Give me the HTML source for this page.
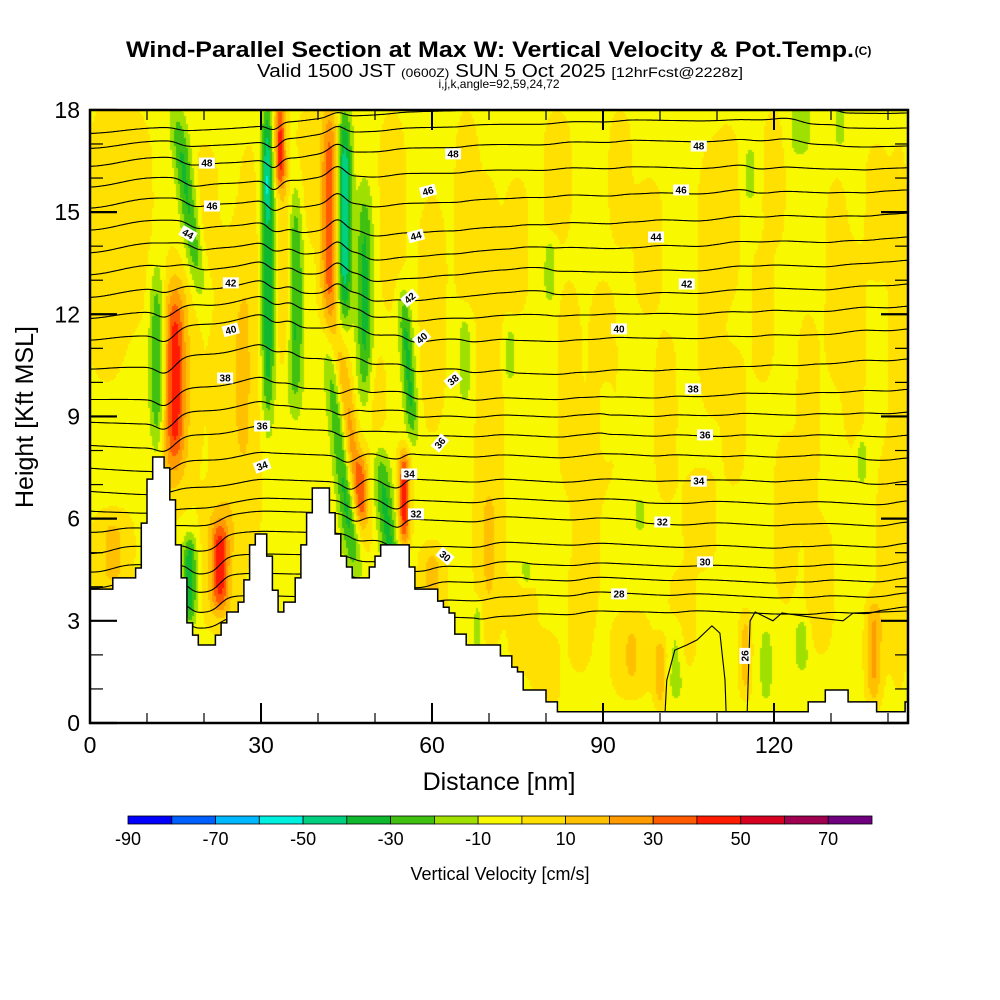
<!DOCTYPE html>
<html><head><meta charset="utf-8">
<style>
html,body{margin:0;padding:0;background:#fff;}
#wrap{position:relative;width:1000px;height:1000px;overflow:hidden;font-family:"Liberation Sans",sans-serif;}
#field{position:absolute;left:90px;top:110px;}
#ov{position:absolute;left:0;top:0;}
</style></head>
<body>
<div id="wrap">
<canvas id="field" width="818" height="613"></canvas>
<svg id="ov" width="1000" height="1000" xmlns="http://www.w3.org/2000/svg">
<g font-family="Liberation Sans, sans-serif" text-anchor="middle">
<text x="490" y="57" font-size="22" font-weight="bold" textLength="728" lengthAdjust="spacingAndGlyphs">Wind-Parallel Section at Max W: Vertical Velocity &amp; Pot.Temp.</text>
<text x="863" y="55" font-size="12" font-weight="bold">(C)</text>
<text x="500" y="77" font-size="18" textLength="486" lengthAdjust="spacingAndGlyphs">Valid 1500 JST <tspan font-size="12">(0600Z)</tspan> SUN 5 Oct 2025 <tspan font-size="14">[12hrFcst@2228z]</tspan></text>
<text x="499" y="88" font-size="12">i,j,k,angle=92,59,24,72</text>
</g>
<defs><clipPath id="pc"><rect x="90" y="110" width="818" height="613"/></clipPath></defs>
<g id="contours" clip-path="url(#pc)"></g>
<g id="terrain" clip-path="url(#pc)"></g>
<g id="labels"></g>
<g id="axes"></g>
<g id="cbar"></g>
</svg>
</div>
<script>
// ---------- data ----------
const colors = ["#0000ff","#0060ff","#00b8ff","#00f0e0","#00d080","#10b830","#40c010","#a0e000","#f8f800","#ffe000","#ffc000","#ff9a00","#ff5a00","#ff1a00","#d80020","#a00050","#700080"];
const cbarLabels = ["-90","-70","-50","-30","-10","10","30","50","70"];
const terrain = [3.93,3.93,3.93,3.93,4.26,4.26,4.26,4.26,4.55,5.87,
7.16,7.81,7.81,7.49,6.55,5.23,4.26,2.94,2.58,2.29,
2.29,2.29,2.58,2.94,3.26,3.26,3.55,4.2,5.23,5.55,
5.55,4.9,3.9,3.26,3.55,3.55,4.26,5.23,6.17,6.9,
6.9,6.9,6.17,5.55,4.9,4.58,4.26,4.26,4.26,4.58,
4.9,5.23,5.23,5.23,5.23,5.23,4.58,3.93,3.93,3.93,
3.93,3.58,3.4,3.23,2.61,2.61,2.29,2.29,2.29,2.29,
2.29,2.29,1.97,1.97,1.64,1.5,0.97,0.97,0.97,0.97,
0.62,0.62,0.33,0.33,0.33,0.33,0.33,0.33,0.33,0.33,
0.33,0.33,0.33,0.33,0.33,0.33,0.33,0.33,0.33,0.33,
0.33,0.33,0.33,0.33,0.33,0.33,0.33,0.33,0.33,0.33,
0.33,0.33,0.33,0.33,0.33,0.33,0.33,0.33,0.33,0.33,
0.33,0.33,0.33,0.33,0.33,0.33,0.62,0.62,0.62,0.97,
0.97,0.97,0.97,0.62,0.62,0.62,0.62,0.62,0.33,0.33,
0.33,0.33,0.33,0.62];
const wBase = -3;
// features: center nm, center kft, half-width nm, half-height kft, tilt nm/kft, amplitude cm/s
const featX    = [14.9,14.9,11.8,17.2,31.2,31.0,33.3,34.2,36.0,42.1,45.3,47.7,44.6,44.2,48.2,52.0,55.8,55.1,22.8,22.8,17.5,25,
 90.4,80.7,65.8,73.7,115.8,124.6,131.6,135.4,102.8,118.6,124.9,76.5,68,96.5,
 137.5,100,95,115,60,
 3,4,70,87,109,122,131,142,80,107,98,82,118,7,28,53,60,90,128,76,113,66,138,
 12,38,20,50,75,84,93,101,112,126,134,104,120,140,86,70];
const featZ    = [10.1,10.0,10.4,15.3,13.4,16.5,17.0,13.5,12.5,14.8,8.6,6.9,14.9,8.0,12.5,6.0,10.5,6.6,4.6,4.8,4.2,10,
 8.9,13.3,10.7,10.8,16.1,17.6,17.6,7.7,1.8,1.7,2.3,4.4,2.85,6.1,
 2.1,1.5,2,2,4,
 14,5,9,6,13,6,13,9,1.5,6,14,16,12,15,11,15,12,10,4,3,9,15,15,
 7,16,15,9,14,10,16,9,15,9,11,3,16,5,3,5];
const featSX   = [1.7,3.5,1.4,1.6,1.2,0.8,1.0,1.4,1.4,1.6,1.6,1.1,1.3,1.6,1.4,1.6,1.2,1.0,1.5,3.0,1.2,3.5,
 1.1,1.1,1.2,1.0,1.1,2.0,1.0,0.9,1.3,1.1,1.3,1.1,0.8,1.0,
 1.3,1.0,3.0,1.0,2.0,
 4,3,2.5,2.5,2.5,2,2,2,2.5,3,2.5,2.5,2,4,2.5,2.5,2.5,2.5,2.5,2.5,2,2,2,
 2,2,2.5,2,2,2,2,2,2,2,2,2.5,2,2,2,2];
const featSZ   = [2.6,3.5,3.0,2.7,4.6,1.5,1.3,3.0,3.3,3.3,3.0,1.0,3.1,3.6,3.2,2.2,2.2,1.4,1.3,2.0,1.3,4,
 1.1,1.0,1.4,0.8,0.8,1.0,0.7,0.7,1.2,1.1,0.8,0.4,0.8,0.5,
 1.5,1.0,1.2,1.2,1.2,
 4,1.2,7,3,4,2.5,3,8,1.2,1.5,2,2,2,3,6,3,3.5,3,2,1.5,2,3,2,
 2,2,2,2,2,3,2,2.5,2.5,3,3,1.5,2,3,1.5,2];
const featTilt = [0,0,0,-0.76,0,0,0,0,0,0,-0.8,0,0,-0.61,0,-0.6,-0.4,0,0,0,0,0,
 0,0,0,0,0,0,0,0,0,0,0,0,0,0,
 0,0,0,0,0,
 0,0,0,0,0,0,0,0,0,0,0,0,0,0,0,0,0,0,0,0,0,0,0,
 0,0,0,0,0,0,0,0,0,0,0,0,0,0,0,0];
const featAmp  = [35,15,-32,-30,-38,-15,45,16,-30,42,36,20,-48,-35,-30,-30,-30,48,36,14,-35,10,
 -14,-14,-14,-14,-14,-14,-14,-14,-14,-14,-14,-14,-14,-14,
 25,20,14,18,18,
 8,16,8,8,8,8,8,8,8,8,8,8,8,8,8,8,8,8,8,8,8,8,8,
 8,8,8,8,8,8,8,8,8,8,8,8,8,8,8,8];
const thetaLevels = [27,28,29,30,31,32,33,34,35,36,37,38,39,40,41,42,43,44,45,46,47,48,49,50];
const thetaBaseZ  = [3.41,3.82,4.26,4.73,5.28,5.9,6.52,7.1,7.78,8.45,9.13,9.8,10.69,11.57,12.24,12.89,13.59,14.27,14.97,15.65,16.3,16.94,17.47,17.91];
const loop26X = [100.9,101.2,102.6,104.7,106.5,109.1,110.5,111.4,111.6];
const loop26Z = [0.33,1.26,2.14,2.29,2.44,2.85,2.64,1.26,0.33];
const line26X = [115.3,115.8,116.7,119.8,121.4,126.8,132.1,133.9,144];
const line26Z = [0.33,3.0,3.26,3.0,3.23,3.1,3.0,3.23,3.29];
const labelVal = ["48","48","48","46","46","46","44","44","44","42","42","42","40","40","40","38","38","38","36","36","36","34","34","34","32","32","30","30","28","26"];
const labelX = [20.5,63.7,106.8,21.4,59.3,103.7,17.2,57.2,99.3,24.7,56.1,104.7,24.7,58.2,92.8,23.7,63.7,105.8,30.2,61.4,107.9,30.2,56.0,106.8,57.2,100.4,62.3,107.9,92.8,114.9];
const labelZ = [16.44,16.71,16.94,15.18,15.62,15.65,14.36,14.3,14.27,12.92,12.48,12.89,11.54,11.3,11.57,10.13,10.07,9.81,8.72,8.22,8.46,7.55,7.31,7.1,6.14,5.9,4.9,4.73,3.79,1.97];
const labelRot = [0,0,0,0,-15,0,30,-15,0,0,-40,0,-15,-40,0,0,-40,0,0,-50,0,-20,0,0,0,0,40,0,0,-90];
const xTicks = [0,30,60,90,120];
const xMinor = [10,20,40,50,70,80,100,110,130,140];
const yTicks = [0,3,6,9,12,15,18];

// ---------- scales ----------
const X0=90, X1=908, Y0=723, Y1=110;
const NM_PX = 5.7, KFT_PX = 34.06;
const sx = nm => X0 + nm*NM_PX;
const sy = z => Y0 - z*KFT_PX;
const SVGNS="http://www.w3.org/2000/svg";
function mk(tag, attrs, parent){const e=document.createElementNS(SVGNS,tag);for(const k in attrs)e.setAttribute(k,attrs[k]);parent.appendChild(e);return e;}

function wAnom(x,z){
  let s=0;
  for(let i=0;i<featX.length;i++){
    const dz=z-featZ[i];
    const q=dz/featSZ[i]; const q4=q*q*q*q;
    if(q4>12) continue;
    const dx=(x-(featX[i]+featTilt[i]*dz))/featSX[i];
    const e=dx*dx+q4;
    if(e<12) s+=featAmp[i]*Math.exp(-e);
  }
  return s;
}

// ---------- field ----------
(function(){
  const cv=document.getElementById('field'); const ctx=cv.getContext('2d');
  const W=818,H=613,B=2;
  for(let py=0;py<H;py+=B){
    const z=(H-py-B/2)/KFT_PX;
    for(let px=0;px<W;px+=B){
      const x=(px+B/2)/NM_PX;
      const w=wBase+wAnom(x,z);
      let b=Math.floor((w+90)/10); if(b<0)b=0; if(b>16)b=16;
      ctx.fillStyle=colors[b]; ctx.fillRect(px,py,B,B);
    }
  }
})();

// ---------- contours ----------
(function(){
  const g=document.getElementById('contours');
  const step=0.25, N=Math.round(144/step);
  const k=0.0035;
  thetaLevels.forEach((lv,li)=>{
    const zb=thetaBaseZ[li];
    const I=[0]; let acc=0;
    for(let j=1;j<=N;j++){acc+=wAnom((j-0.5)*step,zb)*step; I.push(acc);}
    const tot=I[N];
    const pts=[];
    for(let j=0;j<=N;j++){
      const x=j*step;
      const lf=Math.exp(-(x/45)*(x/45));
      const top=Math.min(1,Math.max(0,(zb-11)/6));
      const z=zb+k*(I[j]-tot*x/144)-0.3*lf-0.3*lf*top;
      pts.push(sx(x).toFixed(1)+','+sy(z).toFixed(1));
    }
    const p=mk('polyline',{points:pts.join(' '),fill:'none',stroke:'#000','stroke-width':'1.1'},g);
    
    
  });
  [[loop26X,loop26Z],[line26X,line26Z]].forEach((a,ai)=>{
    const pts=a[0].map((x,i)=>sx(x).toFixed(1)+','+sy(a[1][i]).toFixed(1));
    const p=mk('polyline',{points:pts.join(' '),fill:'none',stroke:'#000','stroke-width':'1.1'},g);
    
    
  });
})();

// ---------- terrain ----------
(function(){
  const g=document.getElementById('terrain');
  let d='M'+sx(0)+','+sy(0);
  terrain.forEach((t,i)=>{d+=' L'+sx(i).toFixed(1)+','+sy(t).toFixed(1)+' L'+sx(i+1).toFixed(1)+','+sy(t).toFixed(1);});
  d+=' L'+sx(144)+','+sy(0)+' Z';
  const p=mk('path',{d:d,fill:'#fff',stroke:'#000','stroke-width':'1.5'},g);
  
  
})();

// ---------- labels ----------
(function(){
  const g=document.getElementById('labels');
  labelVal.forEach((v,i)=>{
    const cx=sx(labelX[i]), cy=sy(labelZ[i]);
    const gg=mk('g',{transform:'translate('+cx.toFixed(1)+','+cy.toFixed(1)+') rotate('+labelRot[i]+')'},g);
    
    
    mk('rect',{x:-8,y:-5.5,width:16,height:11,fill:'#fff'},gg);
    const t=mk('text',{x:0,y:3.5,'font-size':'10','font-weight':'bold','text-anchor':'middle','font-family':'Liberation Sans, sans-serif'},gg);
    t.textContent=v;
  });
})();

// ---------- axes ----------
(function(){
  const g=document.getElementById('axes');
  xTicks.forEach(v=>{
    const x=sx(v);
    mk('line',{x1:x,y1:Y0,x2:x,y2:Y0-20,stroke:'#000','stroke-width':'2'},g);
    mk('line',{x1:x,y1:Y1,x2:x,y2:Y1+20,stroke:'#000','stroke-width':'2'},g);
    const t=mk('text',{x:x,y:753,'font-size':'23','text-anchor':'middle','font-family':'Liberation Sans, sans-serif'},g);
    
    
    t.textContent=v;
  });
  xMinor.forEach(v=>{
    const x=sx(v);
    mk('line',{x1:x,y1:Y0,x2:x,y2:Y0-10,stroke:'#000','stroke-width':'1.2'},g);
    mk('line',{x1:x,y1:Y1,x2:x,y2:Y1+10,stroke:'#000','stroke-width':'1.2'},g);
  });
  for(let v=0;v<=18;v++){
    const y=sy(v); const major=v%3===0; const L=major?27:13;
    mk('line',{x1:X0,y1:y,x2:X0+L,y2:y,stroke:'#000','stroke-width':major?'2.2':'1.2'},g);
    mk('line',{x1:X1,y1:y,x2:X1-L,y2:y,stroke:'#000','stroke-width':major?'2.2':'1.2'},g);
  }
  yTicks.forEach(v=>{
    const t=mk('text',{x:80,y:sy(v)+8,'font-size':'23','text-anchor':'end','font-family':'Liberation Sans, sans-serif'},g);
    
    
    t.textContent=v;
  });
  const fr=mk('rect',{x:X0,y:Y1,width:X1-X0,height:Y0-Y1,fill:'none',stroke:'#000','stroke-width':'2.5'},g);
  
  
  const xt=mk('text',{x:499,y:790,'font-size':'25','text-anchor':'middle','font-family':'Liberation Sans, sans-serif'},g);
  
  
  xt.textContent='Distance [nm]';
  const yt=mk('text',{x:0,y:0,'font-size':'25','text-anchor':'middle','font-family':'Liberation Sans, sans-serif',transform:'translate(33,417) rotate(-90)'},g);
  
  
  yt.textContent='Height [Kft MSL]';
})();

// ---------- colorbar ----------
(function(){
  const g=document.getElementById('cbar');
  const cx0=128, cw=744/colors.length;
  colors.forEach((c,i)=>{
    const r=mk('rect',{x:(cx0+i*cw).toFixed(1),y:816,width:cw.toFixed(1),height:8,fill:c,stroke:'#000','stroke-width':'0.8'},g);
    
    
  });
  cbarLabels.forEach((l,i)=>{
    const t=mk('text',{x:(cx0+2*i*cw).toFixed(1),y:845,'font-size':'18','text-anchor':'middle','font-family':'Liberation Sans, sans-serif'},g);
    
    
    t.textContent=l;
  });
  const t=mk('text',{x:500,y:880,'font-size':'18','text-anchor':'middle','font-family':'Liberation Sans, sans-serif'},g);
  
  
  t.textContent='Vertical Velocity [cm/s]';
})();
</script>
</body></html>
